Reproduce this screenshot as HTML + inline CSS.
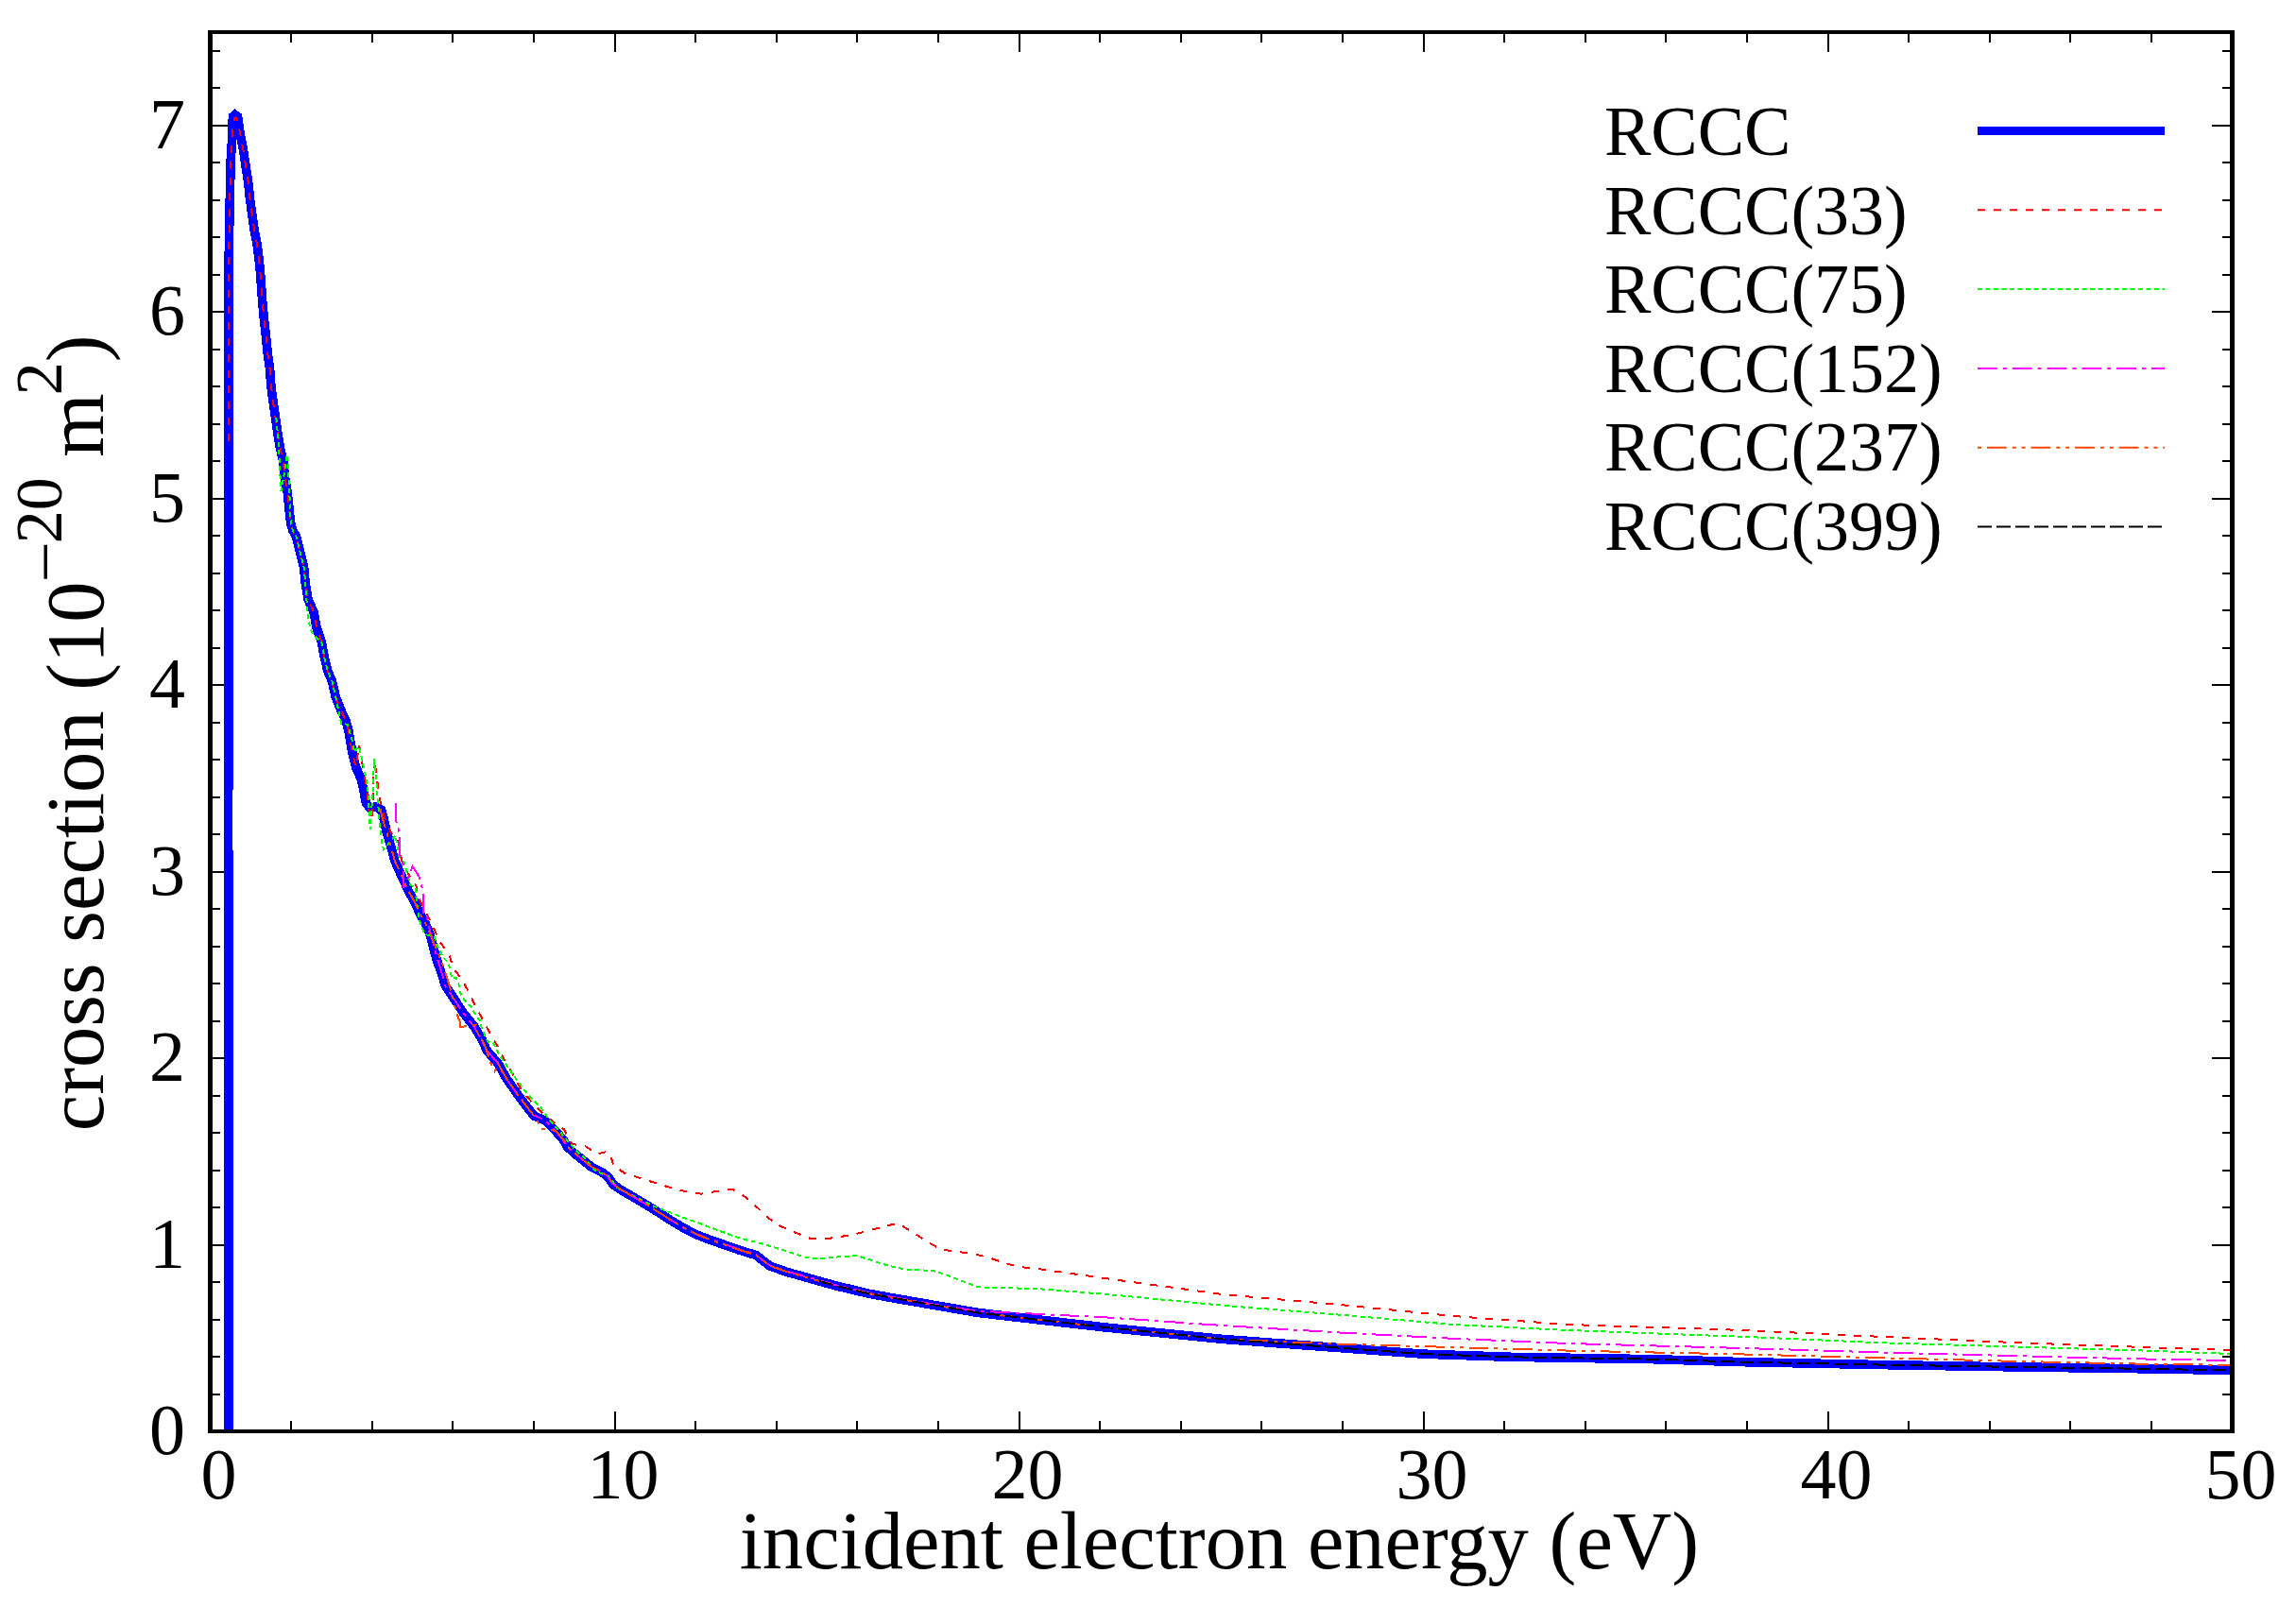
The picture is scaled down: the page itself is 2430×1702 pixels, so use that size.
<!DOCTYPE html><html><head><meta charset="utf-8"><title>cross section</title><style>html,body{margin:0;padding:0;background:#fff;overflow:hidden}svg{display:block}text{font-family:"Liberation Serif",serif}</style></head><body><svg width="2430" height="1702" viewBox="0 0 2430 1702">
<rect width="2430" height="1702" fill="#fff"/>
<path d="M222.5,1513v-19M222.5,36v19M308.1,1513v-9M308.1,36v9M393.7,1513v-9M393.7,36v9M479.3,1513v-9M479.3,36v9M564.9,1513v-9M564.9,36v9M650.5,1513v-19M650.5,36v19M736.1,1513v-9M736.1,36v9M821.7,1513v-9M821.7,36v9M907.3,1513v-9M907.3,36v9M992.9,1513v-9M992.9,36v9M1078.5,1513v-19M1078.5,36v19M1164.1,1513v-9M1164.1,36v9M1249.7,1513v-9M1249.7,36v9M1335.3,1513v-9M1335.3,36v9M1420.9,1513v-9M1420.9,36v9M1506.5,1513v-19M1506.5,36v19M1592.1,1513v-9M1592.1,36v9M1677.7,1513v-9M1677.7,36v9M1763.3,1513v-9M1763.3,36v9M1848.9,1513v-9M1848.9,36v9M1934.5,1513v-19M1934.5,36v19M2020.1,1513v-9M2020.1,36v9M2105.7,1513v-9M2105.7,36v9M2191.3,1513v-9M2191.3,36v9M2276.9,1513v-9M2276.9,36v9M2362.5,1513v-19M2362.5,36v19M225,1515.0h19M2360,1515.0h-19M225,1475.5h8M2360,1475.5h-8M225,1436.0h8M2360,1436.0h-8M225,1396.5h8M2360,1396.5h-8M225,1357.0h8M2360,1357.0h-8M225,1317.5h19M2360,1317.5h-19M225,1278.0h8M2360,1278.0h-8M225,1238.5h8M2360,1238.5h-8M225,1199.0h8M2360,1199.0h-8M225,1159.5h8M2360,1159.5h-8M225,1120.0h19M2360,1120.0h-19M225,1080.5h8M2360,1080.5h-8M225,1041.0h8M2360,1041.0h-8M225,1001.5h8M2360,1001.5h-8M225,962.0h8M2360,962.0h-8M225,922.5h19M2360,922.5h-19M225,883.0h8M2360,883.0h-8M225,843.5h8M2360,843.5h-8M225,804.0h8M2360,804.0h-8M225,764.5h8M2360,764.5h-8M225,725.0h19M2360,725.0h-19M225,685.5h8M2360,685.5h-8M225,646.0h8M2360,646.0h-8M225,606.5h8M2360,606.5h-8M225,567.0h8M2360,567.0h-8M225,527.5h19M2360,527.5h-19M225,488.0h8M2360,488.0h-8M225,448.5h8M2360,448.5h-8M225,409.0h8M2360,409.0h-8M225,369.5h8M2360,369.5h-8M225,330.0h19M2360,330.0h-19M225,290.5h8M2360,290.5h-8M225,251.0h8M2360,251.0h-8M225,211.5h8M2360,211.5h-8M225,172.0h8M2360,172.0h-8M225,132.5h19M2360,132.5h-19M225,93.0h8M2360,93.0h-8M225,53.5h8M2360,53.5h-8" stroke="#000" stroke-width="2" fill="none" shape-rendering="crispEdges"/>
<defs><clipPath id="c"><rect x="225" y="36" width="2135" height="1477"/></clipPath></defs>
<g clip-path="url(#c)" shape-rendering="crispEdges" fill="none" stroke-linejoin="miter" stroke-miterlimit="2.5">
<polyline points="241.7,1517.0 241.7,900.0 241.8,600.0 242.0,400.0 242.0,321.8 242.0,287.7 242.7,239.8 243.4,205.7 244.1,171.5 245.2,155.0 245.9,137.3 246.4,123.5 248.8,121.5 251.6,123.5 254.4,142.8 257.8,160.6 260.2,177.0 262.6,192.0 264.6,211.0 266.7,226.2 269.0,242.6 272.1,259.0 274.2,275.4 275.8,291.8 276.9,308.2 278.1,324.0 279.8,341.4 281.6,357.0 283.3,374.5 285.6,390.2 286.8,407.6 289.0,425.0 291.1,439.0 293.8,458.1 296.4,473.8 299.9,489.5 301.6,505.2 304.2,520.9 306.0,538.3 307.7,554.0 310.0,562.0 313.4,567.5 317.9,585.4 321.6,600.3 323.1,616.7 326.1,634.6 332.1,648.0 335.1,664.5 340.3,679.4 343.3,695.8 347.0,710.7 351.5,721.2 355.2,737.6 361.2,752.5 366.0,763.0 368.7,772.4 373.0,797.3 376.7,812.2 382.3,824.7 385.0,837.1 387.3,850.0 391.5,855.0 397.3,853.9 403.5,857.0 406.0,865.7 409.0,879.9 413.4,894.8 417.9,911.2 423.9,924.6 432.8,944.0 438.8,954.5 444.8,967.9 450.7,978.4 455.4,990.0 461.2,1012.4 468.7,1034.8 471.6,1043.7 480.6,1057.2 490.3,1072.0 502.2,1087.0 511.2,1102.0 514.9,1111.5 527.1,1125.5 535.8,1141.2 548.0,1158.6 558.4,1172.5 565.4,1181.2 577.6,1186.4 588.0,1196.9 596.8,1207.3 600.0,1213.5 608.7,1221.4 617.4,1228.3 626.1,1235.3 636.6,1240.5 643.6,1245.7 648.8,1253.6 657.5,1259.7 669.7,1266.7 682.8,1274.5 694.1,1281.5 708.9,1291.0 722.0,1298.9 735.0,1305.9 748.1,1311.1 765.5,1317.2 782.9,1323.3 800.0,1328.5 814.8,1340.0 832.3,1346.2 849.7,1351.1 867.1,1356.0 884.5,1360.9 902.0,1365.0 919.4,1369.2 940.0,1373.0 992.0,1382.0 1035.5,1389.5 1100.0,1397.0 1172.0,1405.2 1293.9,1417.4 1415.9,1426.5 1507.3,1433.2 1598.8,1436.3 1750.0,1438.7 1845.9,1441.7 1991.8,1444.6 2137.7,1447.0 2283.6,1449.0 2362.0,1450.5" stroke="#0000ff" stroke-width="9.6"/>
<polyline points="241.9,476.0 242.0,400.0 242.0,321.8 242.0,287.7 242.7,239.8 243.4,205.7 244.1,171.5 245.2,155.0 245.9,137.3 248.2,125.0 249.3,124.4 251.6,127.8 254.4,142.8 257.8,160.6 260.2,177.0 262.6,192.0 264.6,211.0 266.7,226.2 269.0,242.6 272.1,259.0 274.2,275.4 275.8,291.8 276.9,308.2 278.1,324.0 279.8,341.4 281.6,357.0 283.3,374.5 285.6,390.2 286.8,407.6 289.0,425.0 291.1,439.0 293.8,458.1 296.4,473.8 299.9,489.5 301.6,505.2 304.2,520.9 306.0,538.3 307.7,554.0 310.0,562.0 313.4,567.5 317.9,585.4 321.6,600.3 323.1,616.7 326.1,634.6 332.1,648.0 335.1,664.5 340.3,679.4 343.3,695.8 347.0,710.7 351.5,721.2 355.2,737.6 361.2,752.5 366.0,763.0 368.7,772.4 373.0,797.3 376.7,812.2 380.0,788.6 383.0,806.0 386.0,822.0 388.6,839.6 390.4,858.0 394.0,868.0 395.0,833.0 396.0,803.0 398.5,819.7 400.4,836.0 403.0,851.0 407.0,865.7 414.2,882.0 420.9,886.0 422.4,898.0 426.0,914.0 435.0,930.0 440.3,937.0 443.3,951.0 451.5,967.0 459.0,982.5 465.7,997.5 475.0,1009.4 479.9,1025.0 490.0,1038.5 497.0,1052.0 503.4,1065.4 511.6,1080.3 519.0,1094.5 526.9,1108.0 534.9,1123.7 543.6,1138.5 551.5,1153.3 561.9,1165.5 574.1,1177.7 586.3,1188.2 596.8,1195.2 605.2,1210.9 619.2,1213.1 632.7,1221.4 642.7,1218.7 646.0,1222.0 649.2,1233.6 661.8,1242.3 678.0,1247.0 694.1,1252.3 709.8,1257.1 726.3,1261.4 742.0,1263.6 758.5,1261.0 775.1,1258.8 788.2,1266.7 799.5,1276.2 813.4,1289.4 826.5,1298.0 841.7,1304.6 857.0,1310.7 872.2,1311.6 889.6,1309.0 904.9,1306.4 922.3,1301.8 937.5,1297.6 950.6,1294.8 968.0,1305.7 983.3,1315.5 996.3,1322.5 1011.6,1324.7 1029.0,1326.8 1046.4,1331.2 1061.7,1336.2 1077.0,1340.8 1096.5,1342.7 1172.0,1353.4 1293.9,1370.0 1415.9,1380.8 1537.8,1393.0 1659.8,1402.0 1845.9,1408.0 1991.8,1414.9 2137.7,1421.3 2283.6,1426.5 2362.0,1428.8" stroke="#ff0000" stroke-width="2" stroke-dasharray="8 9" stroke-dashoffset="8.5"/>
<polyline points="292.4,442.3 293.8,458.1 295.0,474.0 296.3,500.0 297.5,520.0 301.0,500.0 303.7,481.0 305.0,495.0 306.0,515.0 306.8,532.0 307.7,554.0 310.0,562.0 313.4,567.5 317.9,585.4 321.6,600.3 323.1,616.7 326.0,655.5 329.9,669.0 335.0,675.0 340.3,679.4 343.3,695.8 347.0,710.7 351.5,721.2 355.2,737.6 361.2,766.0 367.9,766.7 372.4,782.4 374.6,795.8 380.0,790.0 384.0,808.0 388.0,826.0 390.0,845.0 391.7,878.0 394.5,840.0 396.0,803.5 398.5,824.7 399.0,842.0 401.0,859.5 402.2,877.0 404.0,890.6 406.0,899.3 418.4,884.4 421.0,896.8 422.4,906.7 427.6,912.7 434.3,936.6 439.6,939.6 440.3,948.5 443.3,972.4 449.3,988.8 459.7,991.8 462.7,1001.2 469.4,1013.9 474.6,1019.0 476.5,1026.6 478.0,1034.8 482.8,1034.8 485.8,1043.0 487.3,1051.2 490.7,1057.2 494.0,1061.6 498.9,1066.1 503.0,1073.6 507.5,1079.6 509.7,1087.8 512.7,1094.5 516.4,1102.7 521.6,1103.4 528.8,1116.8 539.3,1132.4 548.0,1144.6 560.2,1160.3 572.4,1172.5 581.1,1184.7 593.3,1198.6 600.0,1206.6 611.3,1219.6 618.3,1225.3 623.5,1231.8 628.7,1237.9 634.8,1241.4 643.6,1244.9 648.8,1251.0 653.1,1257.1 661.0,1261.4 668.8,1264.9 675.8,1268.4 682.8,1271.9 690.6,1276.2 698.4,1279.3 705.8,1281.9 713.2,1284.9 722.0,1288.4 729.8,1291.0 737.6,1293.7 745.5,1296.7 752.4,1299.3 760.3,1302.4 769.0,1305.4 776.0,1308.5 783.8,1310.6 791.6,1312.8 799.5,1314.6 806.9,1316.6 828.7,1323.0 850.4,1330.3 867.9,1332.5 887.5,1330.3 907.0,1329.0 922.3,1334.0 939.7,1339.5 957.0,1343.4 987.6,1345.0 998.5,1348.2 1018.0,1355.8 1035.5,1362.3 1057.3,1363.0 1096.5,1364.0 1172.0,1370.0 1293.9,1381.7 1415.9,1391.5 1537.8,1402.0 1659.8,1408.0 1845.9,1414.9 1991.8,1421.3 2137.7,1425.7 2283.6,1430.0 2362.0,1433.0" stroke="#00ff00" stroke-width="2" stroke-dasharray="5 3.5" stroke-dashoffset="0"/>
<polyline points="419.4,850.0 419.4,869.4 421.6,877.0 423.1,884.0 423.1,905.0 426.9,915.7 426.9,939.6 433.6,926.0 436.6,917.0 443.3,927.6 445.5,935.0 447.8,944.0 447.8,968.0 451.5,969.4 453.7,980.0 459.0,1000.0 462.7,1014.0 468.7,1033.6 470.6,1042.7 479.6,1056.2 489.3,1071.0 501.2,1086.0 510.2,1101.0 513.9,1110.5 526.1,1124.5 534.8,1140.2 547.0,1157.6 557.4,1171.5 564.4,1180.2 576.6,1185.4 587.0,1195.9 595.8,1206.3 599.0,1212.5 607.7,1220.4 616.4,1227.3 625.1,1234.3 635.6,1239.5 642.6,1244.7 647.8,1252.6 656.5,1258.7 668.7,1265.7 681.8,1273.5 693.1,1280.5 707.9,1290.0 721.0,1297.9 734.0,1304.9 747.1,1310.1 764.5,1316.2 781.9,1322.3 799.0,1327.5 813.8,1339.0 831.3,1345.2 848.7,1350.1 866.1,1355.0 883.5,1359.9 901.0,1364.0 918.4,1368.2 939.0,1372.0 991.0,1381.0 1035.5,1388.0 1050.0,1388.4 1172.0,1394.5 1293.9,1403.0 1415.9,1410.4 1537.8,1416.8 1659.8,1422.0 1845.9,1427.0 1991.8,1431.5 2137.7,1435.3 2283.6,1438.8 2362.0,1440.0" stroke="#ff00ff" stroke-width="2" stroke-dasharray="20.8 6 4 6" stroke-dashoffset="0"/>
<polyline points="402.4,855.9 404.5,865.0 409.0,879.9 413.4,894.8 417.9,911.2 423.9,924.6 432.8,944.0 438.8,954.5 444.8,967.9 450.7,978.4 456.7,991.8 462.7,1006.7 468.7,1021.6 474.6,1039.6 479.1,1054.5 481.3,1065.0 484.3,1075.0 487.0,1082.5 487.3,1087.0 503.7,1085.0 506.2,1095.9 511.2,1102.0 514.9,1111.5 520.0,1127.0 523.6,1134.0 527.1,1125.5 535.8,1141.2 548.0,1158.6 558.4,1172.5 565.4,1181.2 574.0,1195.0 588.0,1196.9 597.3,1207.3 600.5,1213.5 609.2,1221.4 617.9,1228.3 626.6,1235.3 637.1,1240.5 644.1,1245.7 649.3,1253.6 658.0,1259.7 670.2,1266.7 683.3,1274.5 694.6,1281.5 709.4,1291.0 722.5,1298.9 735.5,1305.9 748.6,1311.1 766.0,1317.2 783.4,1323.3 800.5,1328.5 815.3,1340.0 832.8,1346.2 850.2,1351.1 867.6,1356.0 885.0,1360.9 902.5,1365.0 919.9,1369.2 940.5,1373.0 992.5,1382.0 1036.0,1389.5 1100.5,1397.0 1172.5,1405.2 1294.4,1417.4 1415.9,1422.6 1537.8,1426.0 1659.8,1429.6 1845.9,1433.5 1991.8,1437.3 2137.7,1441.0 2283.6,1444.0 2362.0,1444.8" stroke="#ff4500" stroke-width="2" stroke-dasharray="20.8 6 4 5.9 4 5.9" stroke-dashoffset="0"/>
<polyline points="867.1,1356.0 884.5,1360.9 902.0,1365.0 919.4,1369.2 940.0,1373.0 992.0,1382.0 1035.5,1389.5 1100.0,1397.0 1172.0,1405.2 1293.9,1417.4 1415.9,1426.5 1507.3,1433.2 1598.8,1436.3 1750.0,1438.7 1845.9,1441.7 1991.8,1444.6 2137.7,1447.0 2283.6,1449.0 2362.0,1450.5" stroke="#000000" stroke-width="2" stroke-dasharray="15 5" stroke-dashoffset="0"/>
</g>
<path d="M220,32h5v1485h-5zM2360,32h5v1485h-5zM220,32h2145v4h-2145zM220,1513h2145v4h-2145z" fill="#000"/>
<text x="1698" y="164.0" font-size="74">RCCC</text>
<text x="1698" y="247.6" font-size="74">RCCC(33)</text>
<text x="1698" y="331.2" font-size="74">RCCC(75)</text>
<text x="1698" y="414.8" font-size="74">RCCC(152)</text>
<text x="1698" y="498.4" font-size="74">RCCC(237)</text>
<text x="1698" y="582.0" font-size="74">RCCC(399)</text>
<path d="M2093,138.5H2291" stroke="#0000ff" stroke-width="9"/>
<path d="M2093,222.3H2291" stroke="#ff0000" stroke-width="2" stroke-dasharray="8 9" stroke-dashoffset="0"/>
<path d="M2093,306.1H2291" stroke="#00ff00" stroke-width="2" stroke-dasharray="5 3.5" stroke-dashoffset="0"/>
<path d="M2093,389.9H2291" stroke="#ff00ff" stroke-width="2" stroke-dasharray="20.8 6 4 6" stroke-dashoffset="0"/>
<path d="M2093,473.7H2291" stroke="#ff4500" stroke-width="2" stroke-dasharray="20.8 6 4 5.9 4 5.9" stroke-dashoffset="36.7"/>
<path d="M2093,557.5H2291" stroke="#000000" stroke-width="2" stroke-dasharray="15 5" stroke-dashoffset="0"/>
<text x="196" y="1539.0" text-anchor="end" font-size="76">0</text>
<text x="196" y="1341.5" text-anchor="end" font-size="76">1</text>
<text x="196" y="1144.0" text-anchor="end" font-size="76">2</text>
<text x="196" y="946.5" text-anchor="end" font-size="76">3</text>
<text x="196" y="749.0" text-anchor="end" font-size="76">4</text>
<text x="196" y="551.5" text-anchor="end" font-size="76">5</text>
<text x="196" y="354.0" text-anchor="end" font-size="76">6</text>
<text x="196" y="156.5" text-anchor="end" font-size="76">7</text>
<text x="231.5" y="1586" text-anchor="middle" font-size="76">0</text>
<text x="659.5" y="1586" text-anchor="middle" font-size="76">10</text>
<text x="1087.5" y="1586" text-anchor="middle" font-size="76">20</text>
<text x="1515.5" y="1586" text-anchor="middle" font-size="76">30</text>
<text x="1943.5" y="1586" text-anchor="middle" font-size="76">40</text>
<text x="2371.5" y="1586" text-anchor="middle" font-size="76">50</text>
<text x="1290.5" y="1659.7" text-anchor="middle" font-size="86.6">incident electron energy (eV)</text>
<text transform="translate(109,1197.3) rotate(-90)" font-size="86.6">cross section (10<tspan dy="-44" dx="3" font-size="70">–</tspan><tspan dx="2" font-size="70">20</tspan><tspan dy="44"> m</tspan><tspan dy="-44" dx="-2" font-size="70">2</tspan><tspan dy="44">)</tspan></text>
</svg></body></html>
